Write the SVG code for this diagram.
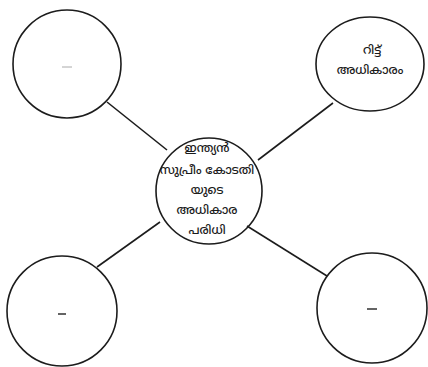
<svg xmlns="http://www.w3.org/2000/svg" width="428" height="367" viewBox="0 0 428 367">
<style>
.node{fill:none;stroke:#1c1c1c;stroke-width:1.6}
.edge{stroke:#1c1c1c;stroke-width:1.6;fill:none}
.lbl{font-family:"Noto Sans Malayalam","Noto Sans","DejaVu Sans",sans-serif;font-size:12px;font-weight:500;fill:#1a1a1a;text-anchor:middle}
.dash{stroke:#222;stroke-width:1.4}
</style>
<rect width="428" height="367" fill="#ffffff"/>
<g id="connectors">
<line class="edge" x1="107" y1="102" x2="167" y2="150"/>
<line class="edge" x1="333" y1="103" x2="258" y2="160"/>
<line class="edge" x1="160" y1="222" x2="97" y2="267"/>
<line class="edge" x1="247" y1="226" x2="327" y2="276"/>
</g>
<g id="node-top-left">
<circle class="node" cx="67" cy="64" r="54"/>
<line x1="62" y1="67" x2="72" y2="67" stroke="#aaa" stroke-width="1"/>
</g>
<g id="node-top-right">
<ellipse class="node" cx="370" cy="64" rx="54" ry="47"/>
<text class="lbl" x="372" y="54">റിട്ട്</text>
<text class="lbl" x="370" y="74">അധികാരം</text>
</g>
<g id="node-center">
<circle class="node" cx="209" cy="191" r="53"/>
<text class="lbl" x="207" y="152">ഇന്ത്യൻ</text>
<text class="lbl" x="207" y="174">സുപ്രീം കോടതി</text>
<text class="lbl" x="207" y="194">യുടെ</text>
<text class="lbl" x="207" y="214">അധികാര</text>
<text class="lbl" x="207" y="234">പരിധി</text>
</g>
<g id="node-bottom-left">
<circle class="node" cx="62" cy="311" r="55"/>
<line class="dash" x1="58" y1="314" x2="66" y2="314"/>
</g>
<g id="node-bottom-right">
<circle class="node" cx="372" cy="308" r="55"/>
<line class="dash" x1="367" y1="309" x2="377" y2="309"/>
</g>
</svg>
